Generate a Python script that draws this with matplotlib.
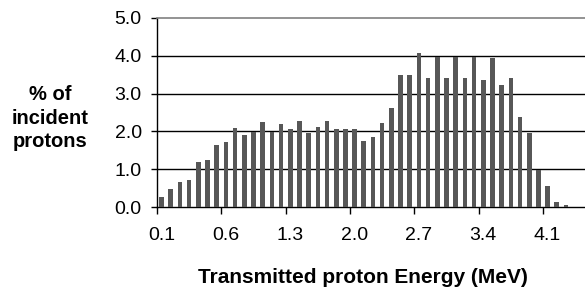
import matplotlib
matplotlib.use("Agg")
import matplotlib.pyplot as plt
import numpy as np

plt.rcParams['font.family'] = ['Liberation Sans', 'DejaVu Sans']

# bar heights (% of incident protons), one per energy bin
values = [0.28, 0.48, 0.68, 0.72, 1.19, 1.24, 1.63, 1.72, 2.08, 1.91,
          1.98, 2.24, 1.98, 2.19, 2.07, 2.27, 1.95, 2.12, 2.27, 2.07,
          2.07, 2.07, 1.75, 1.85, 2.23, 2.63, 3.49, 3.49, 4.06, 3.42,
          3.97, 3.42, 3.97, 3.42, 3.97, 3.37, 3.93, 3.22, 3.42, 2.38,
          1.97, 0.98, 0.56, 0.13, 0.05]
tick_labels = ["0.1", "0.6", "1.3", "2.0", "2.7", "3.4", "4.1"]
label_every = 7
y_ticks = [0.0, 1.0, 2.0, 3.0, 4.0, 5.0]

W, H = 585, 291
fig = plt.figure(figsize=(W / 100, H / 100), dpi=100)
left, right, bottom, top = 157, 585, 207.3, 17.7
ax = fig.add_axes([left / W, 1 - bottom / H, (right - left) / W, (bottom - top) / H])

x = np.arange(len(values))
ax.bar(x, values, width=0.5, color='#575757', zorder=3)

ax.set_xlim(-0.5, 46.07)
ax.set_ylim(0, 5.0)

# y axis
ax.set_yticks(y_ticks)
ax.set_yticklabels([f"{v:.1f}" for v in y_ticks])
ax.tick_params(axis='y', direction='out', length=4, width=1, pad=7, labelsize=14, colors='black')
for v in y_ticks[1:-1]:
    ax.axhline(v, color='black', linewidth=1.0, zorder=1)

# x axis: ticks between categories, labels on categories
major = np.arange(-0.5, len(values), label_every)
ax.set_xticks(major)
ax.set_xticklabels([''] * len(major))
ax.tick_params(axis='x', which='major', direction='out', length=5, width=1)
minor = np.arange(0, len(values), label_every)[:len(tick_labels)]
ax.set_xticks(minor, minor=True)
ax.set_xticklabels(tick_labels, minor=True)
ax.tick_params(axis='x', which='minor', length=0, pad=14, labelsize=14)

ax.spines['right'].set_visible(False)
ax.spines['top'].set_color('#808080')
ax.spines['top'].set_linewidth(1.2)
ax.spines['left'].set_linewidth(1.0)
ax.spines['bottom'].set_linewidth(1.0)

ax.set_xlabel("Transmitted proton Energy (MeV)", fontsize=15, fontweight='bold')
ax.xaxis.set_label_coords((362.5 - left) / (right - left), (bottom - 268) / (bottom - top))

fig.text(50 / W, 1 - 118 / H, "% of\nincident\nprotons", ha='center', va='center',
         fontsize=14.5, fontweight='bold', multialignment='center', linespacing=1.3)

fig.savefig("out.png", dpi=100)
